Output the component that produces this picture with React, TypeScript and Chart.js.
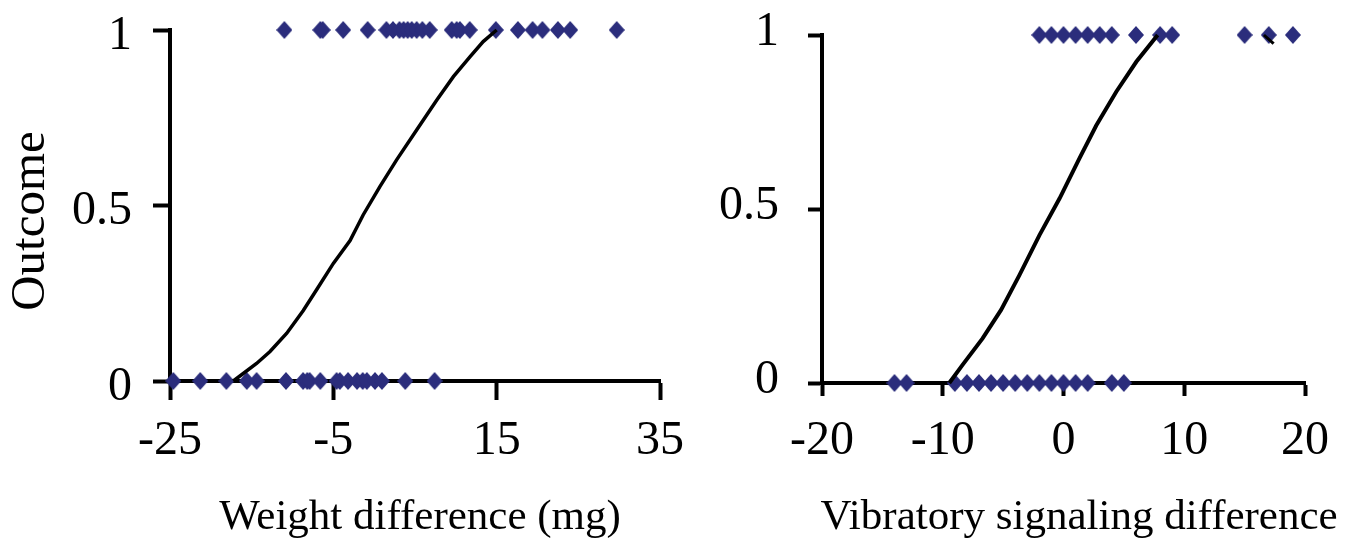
import React, { useEffect, useRef } from 'react';
import { Chart, registerables } from 'chart.js';

Chart.register(...registerables);

const FONT = "'Liberation Serif', 'Times New Roman', Times, serif";
const NAVY = '#2b2d7c';

// ---------- Left panel: weight difference ----------
const weightTicks = [-25, -5, 15, 35];
const outcomeTicks = [0, 0.5, 1];
const weightWinX = [-11.0, -6.6, -6.3, -3.8, -0.8, 1.5, 2.3, 3.1, 3.6, 4.1, 4.6, 5.2, 5.9, 6.8, 9.5, 10.1, 10.5, 11.7, 14.9, 17.6, 19.4, 20.6, 22.5, 24.0, 29.7];
const weightLoseX = [-24.6, -21.3, -18.1, -15.6, -14.4, -10.8, -8.7, -8.2, -7.9, -6.6, -4.6, -4.2, -3.2, -2.1, -1.4, -0.9, 0.1, 0.95, 3.8, 7.4];
const weightCurveX = [-17.25, -14.4, -12.75, -10.7, -8.7, -7.05, -5.0, -2.95, -1.35, 0.7, 2.75, 5.2, 7.65, 9.7, 11.75, 13.35, 15.0];
const weightCurveY = [0, 0.05, 0.084, 0.136, 0.2, 0.26, 0.335, 0.4, 0.473, 0.554, 0.63, 0.715, 0.8, 0.867, 0.924, 0.967, 1.0];
const weightTitleX = 'Weight difference (mg)';
const outcomeTitle = 'Outcome';

// ---------- Right panel: vibratory signaling difference ----------
const vibTicks = [-20, -10, 0, 10, 20];
const vibWinX = [-2, -1, 0, 1, 2, 3, 4, 6, 8, 9, 15, 17, 19];
const vibLoseX = [-14, -13, -9, -8, -7, -6, -5, -4, -3, -2, -1, 0, 1, 2, 4, 5];
const vibCurveX = [-9.46, -8.36, -6.7, -5.17, -3.65, -1.99, -0.33, 1.33, 2.71, 4.37, 6.03, 7.8];
const vibCurveY = [0, 0.052, 0.128, 0.21, 0.31, 0.425, 0.53, 0.646, 0.74, 0.837, 0.923, 1.0];
const vibMarkX = [16.6, 17.4];
const vibMarkY = [1.0, 0.975];
const vibTitleX = 'Vibratory signaling difference';

type Panel = {
  ticksX: number[];
  winX: number[];
  loseX: number[];
  curveX: number[];
  curveY: number[];
  curveWidth: number;
  extraX?: number[];
  extraY?: number[];
  padTop: number;
  padRight: number;
  yWidth: number;
  xHeight: number;
  xTickLen: number;
  xTickPad: number;
  yTickLen: number;
  yTickPad: number;
  yLabelOffset: number;
  yTitle?: string;
  yTitleCx?: number;
  yTitleCy?: number;
  xTitle: string;
  xTitleCx: number;
  xTitleCy: number;
};

const zip = (xs: number[], ys: number[]) => xs.map((x, i) => ({ x, y: ys[i] }));

let diamondCache: HTMLCanvasElement | null = null;
function diamond(): HTMLCanvasElement {
  if (diamondCache) return diamondCache;
  const w = 16;
  const h = 18;
  const c = document.createElement('canvas');
  c.width = w;
  c.height = h;
  const ctx = c.getContext('2d')!;
  ctx.fillStyle = NAVY;
  ctx.beginPath();
  ctx.moveTo(w / 2, 0);
  ctx.lineTo(w, h / 2);
  ctx.lineTo(w / 2, h);
  ctx.lineTo(0, h / 2);
  ctx.closePath();
  ctx.fill();
  diamondCache = c;
  return c;
}

function buildConfig(p: Panel): any {
  const datasets: any[] = [
    {
      type: 'line',
      data: zip(p.curveX, p.curveY),
      borderColor: '#000',
      borderWidth: p.curveWidth,
      pointRadius: 0,
      fill: false,
      tension: 0,
      clip: false,
      order: 0,
    },
  ];
  if (p.extraX && p.extraY) {
    datasets.push({
      type: 'line',
      data: zip(p.extraX, p.extraY),
      borderColor: '#000',
      borderWidth: 3,
      pointRadius: 0,
      fill: false,
      clip: false,
      order: 0,
    });
  }
  const pointStyle = {
    pointStyle: diamond(),
    pointRadius: 8,
    pointHoverRadius: 8,
    pointBackgroundColor: NAVY,
    pointBorderColor: NAVY,
    pointBorderWidth: 0,
    showLine: false,
    clip: false,
    order: 2,
  };
  datasets.push({ data: p.winX.map((x) => ({ x, y: 1 })), ...pointStyle });
  datasets.push({ data: p.loseX.map((x) => ({ x, y: 0 })), ...pointStyle });

  const titlePlugin = {
    id: 'axisTitleText',
    afterDraw(chart: any) {
      const ctx = chart.ctx;
      ctx.save();
      ctx.fillStyle = '#000';
      ctx.textAlign = 'center';
      ctx.textBaseline = 'middle';
      ctx.font = `43px ${FONT}`;
      ctx.fillText(p.xTitle, p.xTitleCx, p.xTitleCy);
      if (p.yTitle) {
        ctx.font = `49px ${FONT}`;
        ctx.translate(p.yTitleCx || 0, p.yTitleCy || 0);
        ctx.rotate(-Math.PI / 2);
        ctx.fillText(p.yTitle, 0, 0);
      }
      ctx.restore();
    },
  };

  return {
    type: 'scatter',
    data: { datasets },
    options: {
      animation: false,
      responsive: false,
      events: [],
      layout: { padding: { left: 0, right: p.padRight, top: p.padTop, bottom: 0 } },
      plugins: { legend: { display: false }, tooltip: { enabled: false } },
      scales: {
        x: {
          type: 'linear',
          min: p.ticksX[0],
          max: p.ticksX[p.ticksX.length - 1],
          afterBuildTicks: (s: any) => {
            s.ticks = p.ticksX.map((v) => ({ value: v }));
          },
          afterFit: (s: any) => {
            s.height = p.xHeight;
            s.paddingLeft = 0;
            s.paddingRight = 0;
          },
          grid: {
            drawOnChartArea: false,
            drawTicks: true,
            tickLength: p.xTickLen,
            tickWidth: 4,
            tickColor: '#000',
          },
          border: { display: true, color: '#000', width: 4 },
          ticks: {
            font: { family: FONT, size: 48 },
            color: '#000',
            padding: p.xTickPad,
            maxRotation: 0,
            minRotation: 0,
            autoSkip: false,
          },
        },
        y: {
          type: 'linear',
          min: outcomeTicks[0],
          max: outcomeTicks[outcomeTicks.length - 1],
          afterBuildTicks: (s: any) => {
            s.ticks = outcomeTicks.map((v) => ({ value: v }));
          },
          afterFit: (s: any) => {
            s.width = p.yWidth;
            s.paddingTop = 0;
            s.paddingBottom = 0;
          },
          grid: {
            drawOnChartArea: false,
            drawTicks: true,
            tickLength: p.yTickLen,
            tickWidth: 4,
            tickColor: '#000',
          },
          border: { display: true, color: '#000', width: 4 },
          ticks: {
            font: { family: FONT, size: 48 },
            color: '#000',
            padding: p.yTickPad,
            labelOffset: p.yLabelOffset,
            autoSkip: false,
            callback: (v: any) => String(v),
          },
          title: { display: false },
        },
      },
    },
    plugins: [titlePlugin],
  };
}

const leftPanel: Panel = {
  ticksX: weightTicks,
  winX: weightWinX,
  loseX: weightLoseX,
  curveX: weightCurveX,
  curveY: weightCurveY,
  curveWidth: 3.5,
  padTop: 30,
  padRight: 40,
  yWidth: 170,
  xHeight: 168,
  xTickLen: 19,
  xTickPad: 13,
  yTickLen: 17,
  yTickPad: 21,
  yLabelOffset: 6,
  yTitle: outcomeTitle,
  yTitleCx: 31,
  yTitleCy: 221,
  xTitle: weightTitleX,
  xTitleCx: 420,
  xTitleCy: 518,
};

const rightPanel: Panel = {
  ticksX: vibTicks,
  winX: vibWinX,
  loseX: vibLoseX,
  curveX: vibCurveX,
  curveY: vibCurveY,
  curveWidth: 4,
  extraX: vibMarkX,
  extraY: vibMarkY,
  padTop: 35,
  padRight: 55,
  yWidth: 122,
  xHeight: 166,
  xTickLen: 13,
  xTickPad: 17,
  yTickLen: 14,
  yTickPad: 29,
  yLabelOffset: -3,
  xTitle: vibTitleX,
  xTitleCx: 379,
  xTitleCy: 518,
};

function PanelChart({ panel, left, width }: { panel: Panel; left: number; width: number }) {
  const ref = useRef<HTMLCanvasElement | null>(null);
  useEffect(() => {
    if (!ref.current) return;
    const chart = new Chart(ref.current, buildConfig(panel));
    return () => chart.destroy();
  }, [panel]);
  return (
    <canvas
      ref={ref}
      width={width}
      height={549}
      style={{ position: 'absolute', left, top: 0, width, height: 549 }}
    />
  );
}

export default function App() {
  return (
    <div
      style={{
        position: 'absolute',
        left: 0,
        top: 0,
        width: 1360,
        height: 549,
        background: '#fff',
        overflow: 'hidden',
      }}
    >
      <PanelChart panel={leftPanel} left={0} width={700} />
      <PanelChart panel={rightPanel} left={700} width={660} />
    </div>
  );
}
